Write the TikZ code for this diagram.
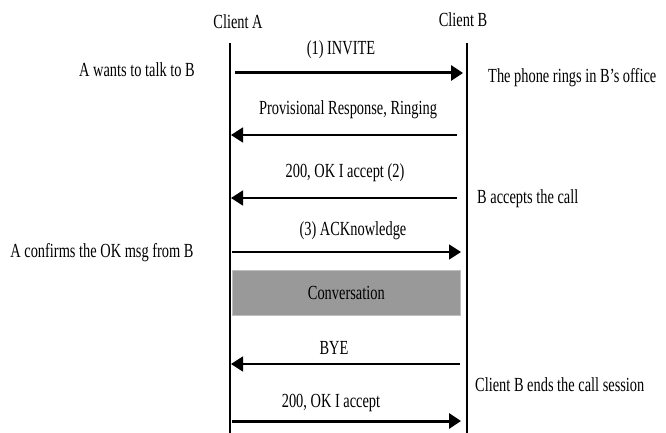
\documentclass[tikz,border=0pt]{standalone}
\usepackage{fontspec}
\setmainfont{Liberation Serif}[FakeStretch=0.72]
\usetikzlibrary{positioning,calc,arrows.meta}

\tikzset{
  lifeline/.style={line width=1.3pt},
  msg/.style={-{Triangle[length=12pt,width=15pt]}},
  note/.style={inner sep=0pt},
  talkbox/.style={fill=black!40, draw=black!25, line width=0.6pt}
}

\begin{document}
\begin{tikzpicture}[x=1pt,y=-1pt,font=\fontsize{20}{24}\selectfont]
  % Constants
  \def\xA{230}
  \def\xB{467}
  \def\yTop{43}
  \def\yBot{433}

  \useasboundingbox (0,0) rectangle (666,433);

  % Clients and lifelines
  \node[note] (clientA) at (238,22) {Client A};
  \node[note] (clientB) at (463,20) {Client B};
  \coordinate (topA) at (\xA,\yTop);
  \coordinate (botA) at (\xA,\yBot);
  \coordinate (topB) at (\xB,\yTop);
  \coordinate (botB) at (\xB,\yBot);
  \draw[lifeline] (topA) -- (botA);
  \draw[lifeline] (topB) -- (botB);

  % Messages: (name/y/start x/end x/line width/label x/label y/label)
  \foreach \n/\y/\xs/\xe/\lw/\lx/\ly/\lab in {%
    invite/73/235/463/3.0/341/50/{(1) INVITE},
    ringing/135/457/231/1.6/348/110/{Provisional Response, Ringing},
    accept/198/457/231/1.6/345/173/{200, OK I accept (2)},
    ack/252/232/461/1.6/353/231/{(3) ACKnowledge},
    bye/364/460/231/1.6/334/348/{BYE},
    okbye/421/232/461/3.0/331/403/{200, OK I accept}%
  } {%
    \coordinate (\n-s) at (\xs,\y);
    \coordinate (\n-e) at (\xe,\y);
    \draw[msg, line width=\lw pt] (\n-s) -- (\n-e);
    \node[note] (\n-lab) at (\lx,\ly) {\lab};
  }

  % Conversation
  \node[talkbox, minimum width=228pt, minimum height=45pt, anchor=north west,
        inner sep=0pt] (talk) at (232,270) {Conversation};

  % Side notes
  \node[note] (wants) at (137,70) {A wants to talk to B};
  \node[note, anchor=west] (rings) at (488,78) {The phone rings in B's office};
  \node[note, anchor=west] (accepts) at (477,199) {B accepts the call};
  \node[note] (confirms) at (102,253) {A confirms the OK msg from B};
  \node[note, anchor=west] (ends) at (475,385) {Client B ends the call session};
\end{tikzpicture}
\end{document}
